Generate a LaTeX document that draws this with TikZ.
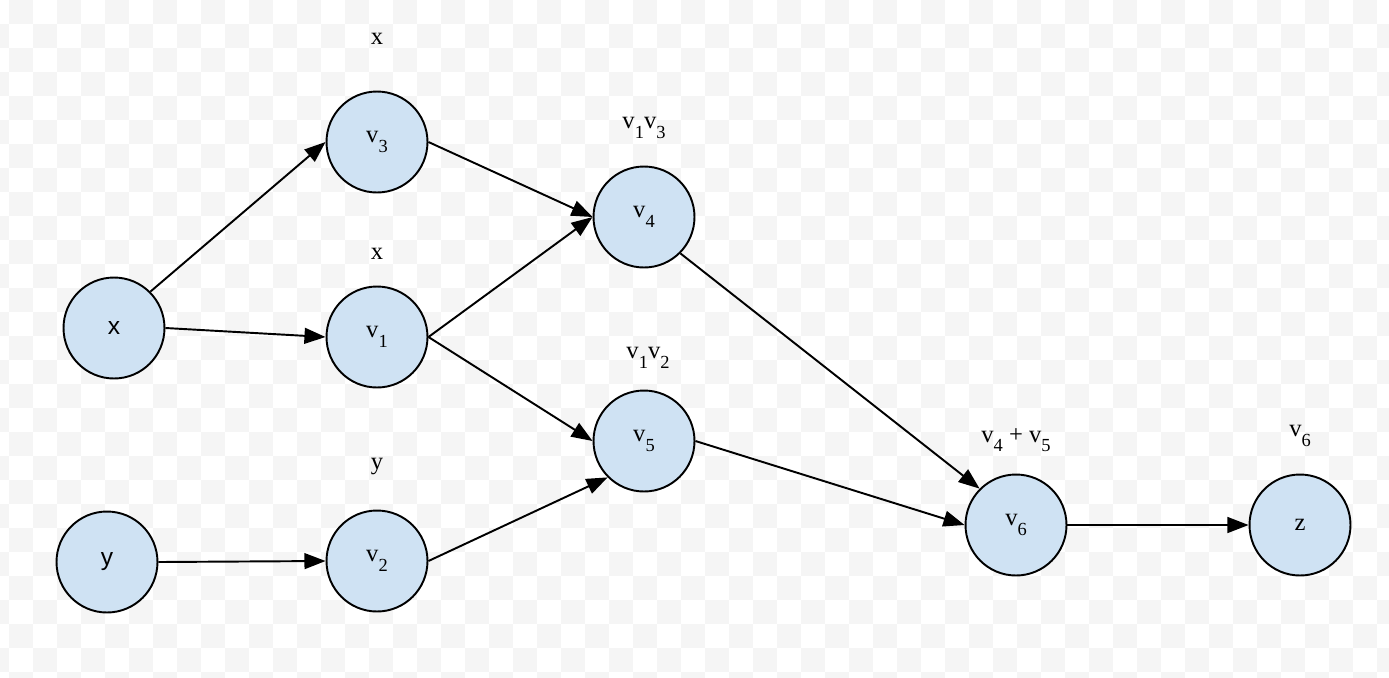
\documentclass[tikz,border=0pt]{standalone}
\usepackage{fontspec}
\setmainfont{Liberation Serif}
\newfontfamily\arialfont{Liberation Sans}
\usetikzlibrary{arrows.meta}
\definecolor{nodeblue}{HTML}{CFE2F3}
\definecolor{chkgray}{HTML}{F5F5F5}
\newcommand{\low}[1]{\raisebox{-5.5pt}{\fontsize{10.5}{12}\selectfont #1}}
\begin{document}
\begin{tikzpicture}[x=0.02cm,y=-0.02cm,
  vertex/.style={circle,draw=black,line width=1.1pt,fill=nodeblue,minimum size=2.02cm,inner sep=0pt,font=\fontsize{14}{16}\selectfont},
  lbl/.style={font=\fontsize{14}{16}\selectfont,inner sep=0pt},
  edge/.style={line width=1.1pt,-{Triangle[length=12pt,width=9pt]}}]
\useasboundingbox (0,0) rectangle (1389,677);
% checkered background
\begin{scope}
\clip (0,0) rectangle (1389,677);
\fill[white] (0,0) rectangle (1389,677);
\foreach \j in {0,...,28}{
  \foreach \i in {0,...,29}{
    \fill[chkgray] ({-15+24*(2*\i+1-mod(\j,2))},{24*\j}) rectangle +(24,24);
  }
}
\end{scope}
% nodes
\node[vertex,font=\fontsize{14}{16}\arialfont] (x) at (114,328) {x};
\node[vertex,font=\fontsize{14}{16}\arialfont] (y) at (107,562) {y};
\node[vertex] (vthree) at (377,142) {v\low{3}};
\node[vertex] (vone) at (377,337) {v\low{1}};
\node[vertex] (vtwo) at (377,561) {v\low{2}};
\node[vertex] (vfour) at (644,217) {v\low{4}};
\node[vertex] (vfive) at (644,441) {v\low{5}};
\node[vertex] (vsix) at (1016,525) {v\low{6}};
\node[vertex] (z) at (1300,525) {z};
% labels
\node[lbl] (lthree) at (377,39) {x};
\node[lbl] (lone) at (377,254) {x};
\node[lbl] (ltwo) at (377,466) {y};
\node[lbl] (lfour) at (644,128) {v\low{1}v\low{3}};
\node[lbl] (lfive) at (648,358) {v\low{1}v\low{2}};
\node[lbl] (lsix) at (1016,440) {v\low{4} + v\low{5}};
\node[lbl] (lz) at (1300,436) {v\low{6}};
% edges
\draw[edge] (x.north east) -- (vthree.west);
\draw[edge] (x.east) -- (vone.west);
\draw[edge] (y.east) -- (vtwo.west);
\draw[edge] (vthree.east) -- (vfour.west);
\draw[edge] (vone.east) -- (vfour.west);
\draw[edge] (vone.east) -- (vfive.west);
\draw[edge] (vtwo.east) -- (vfive.south west);
\draw[edge] (vfour.south east) -- (vsix.north west);
\draw[edge] (vfive.east) -- (vsix.west);
\draw[edge] (vsix.east) -- (z.west);
\end{tikzpicture}
\end{document}
